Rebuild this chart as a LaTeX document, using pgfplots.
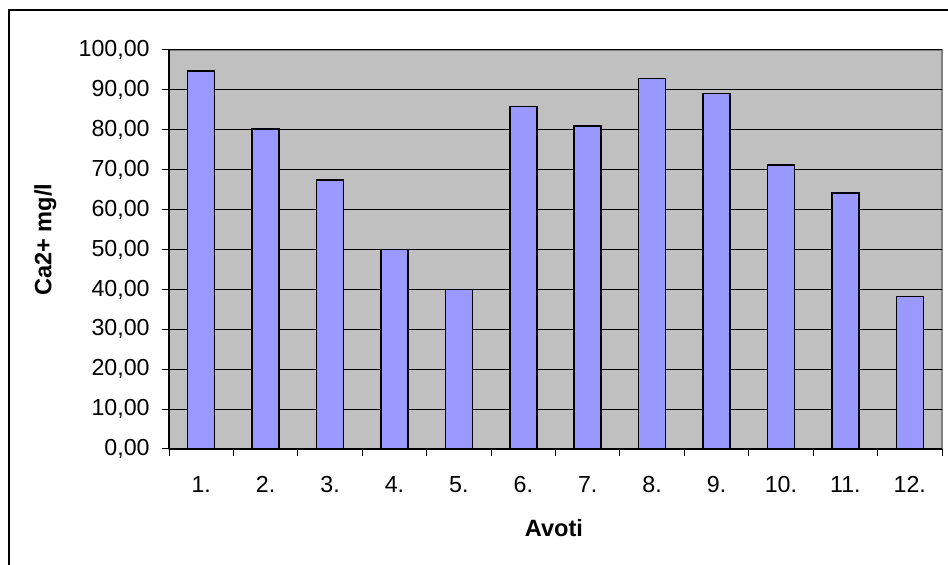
\documentclass[border=0pt]{standalone}
\usepackage{pgfplots}
\pgfplotsset{compat=1.18}
\usepackage{fontspec}
\setmainfont{Liberation Sans}

\definecolor{plotbg}{HTML}{C0C0C0}
\definecolor{barfill}{HTML}{9999FF}
\definecolor{frame}{HTML}{808080}

\begin{document}
\begin{tikzpicture}
% 1 px of the reference = 0.5pt
\useasboundingbox (0,0) rectangle (474pt,282.5pt);
\draw[black, line width=0.6pt] (4.5pt,-1pt) -- (4.5pt,277.5pt) -- (475pt,277.5pt);

\begin{axis}[
  at={(84.5pt,58pt)}, anchor=south west,
  scale only axis,
  width=386.5pt, height=199.5pt,
  xmin=0.5, xmax=12.5,
  ymin=0, ymax=100,
  ytick={0,10,...,100},
  xtick={0.5,1.5,...,12.5},
  x tick label as interval,
  xticklabels={1.,2.,3.,4.,5.,6.,7.,8.,9.,10.,11.,12.},
  tick align=outside,
  major tick length=3.5pt,
  tick style={black, line width=0.5pt},
  axis x line*=bottom, axis y line*=left,
  axis line style={black, line width=0.6pt, -},
  axis background/.style={fill=plotbg, draw=frame, line width=1pt},
  ymajorgrids=true,
  grid style={black, line width=0.5pt},
  ybar, bar width=13.5pt,
  /pgf/number format/.cd, fixed, fixed zerofill, precision=2, use comma, assume math mode=true,
  /pgfplots/.cd,
  ticklabel style={font=\fontsize{11.6}{13}\selectfont},
  yticklabel style={inner sep=0pt, xshift=-6pt},
  xticklabel style={inner sep=0pt, anchor=north, yshift=-10pt},
  ylabel={Ca2+ mg/l},
  xlabel={Avoti},
  label style={font=\bfseries\fontsize{11.8}{14}\selectfont},
  ylabel style={at={(axis description cs:-0.160,0.524)}, anchor=center, rotate=0},
  xlabel style={at={(axis description cs:0.498,-0.197)}, anchor=center},
]
\addplot[fill=barfill, draw=black, line width=0.75pt] coordinates {
  (1,94.7) (2,80.2) (3,67.4) (4,50.0) (5,40.0) (6,85.8)
  (7,81.0) (8,92.8) (9,89.1) (10,71.2) (11,64.1) (12,38.2)
};
\end{axis}
\end{tikzpicture}
\end{document}
